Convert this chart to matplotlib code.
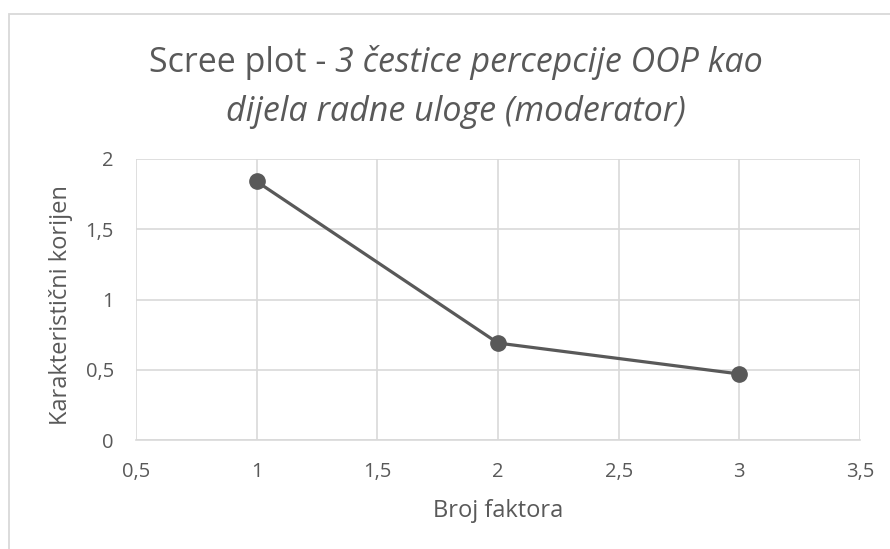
import matplotlib
matplotlib.use("Agg")
import matplotlib.pyplot as plt
from matplotlib.patches import Rectangle

factors = [1, 2, 3]
eigenvalues = [1.84, 0.69, 0.47]
xticks = [0.5, 1, 1.5, 2, 2.5, 3, 3.5]
yticks = [0, 0.5, 1, 1.5, 2]
title_plain = "Scree plot - "
title_italic1 = "3 čestice percepcije OOP kao"
title_italic2 = "dijela radne uloge (moderator)"
xlabel = "Broj faktora"
ylabel = "Karakteristični korijen"

FONT = ["Open Sans", "DejaVu Sans"]
plt.rcParams['font.family'] = FONT
W, H = 890, 549
C = "#595959"
fig = plt.figure(figsize=(W/100, H/100), dpi=100)
fig.patch.set_facecolor("white")
fig.patches.append(Rectangle((9/W, -0.1), 1.2, (H-14)/H + 0.1, transform=fig.transFigure,
                             fill=False, edgecolor="#d9d9d9", lw=1.3))

L, R, T, B = 136, 860, 159, 440
ax = fig.add_axes([L/W, 1-B/H, (R-L)/W, (B-T)/H])
ax.plot(factors, eigenvalues, color=C, lw=2.3, marker="o", ms=11, zorder=3)
ax.set_xlim(0.5, 3.5)
ax.set_ylim(0, 2)
ax.set_xticks(xticks)
ax.set_yticks(yticks)
fmt = lambda v: (f"{v:g}").replace(".", ",")
ax.set_xticklabels([fmt(v) for v in xticks])
ax.set_yticklabels([fmt(v) for v in yticks])
ax.grid(True, color="#d9d9d9", lw=1.2)
ax.set_axisbelow(True)
for s in ["top", "right", "left"]:
    ax.spines[s].set_visible(False)
ax.spines["bottom"].set_color("#d9d9d9")
ax.spines["bottom"].set_linewidth(1.2)
ax.tick_params(axis="both", length=0, labelsize=14.5, colors=C)
ax.tick_params(axis="x", pad=16)
ax.tick_params(axis="y", pad=16)
ax.set_xlabel(xlabel, fontsize=17, color=C, va="center")
ax.set_ylabel(ylabel, fontsize=17, color=C, va="center")
ax.xaxis.set_label_coords(0.5, (B - 511) / (B - T))
ax.yaxis.set_label_coords((61 - L) / (R - L), (B - 305) / (B - T))

# Title with mixed styles
fs = 24.5
cx = 456 / W
fig.canvas.draw()
r = fig.canvas.get_renderer()
t1 = fig.text(0, 1-72/H, title_plain, fontsize=fs, color=C, va="baseline", ha="left")
t2 = fig.text(0, 1-72/H, title_italic1, fontsize=fs, color=C, va="baseline", ha="left", style="italic")
w1 = t1.get_window_extent(r).width
w2 = t2.get_window_extent(r).width
x0 = cx * W - (w1 + w2) / 2
t1.set_x(x0 / W)
t2.set_x((x0 + w1) / W)
fig.text(cx, 1-121/H, title_italic2, fontsize=fs, color=C, va="baseline", ha="center", style="italic")

fig.savefig("out.png", dpi=100, facecolor="white")
